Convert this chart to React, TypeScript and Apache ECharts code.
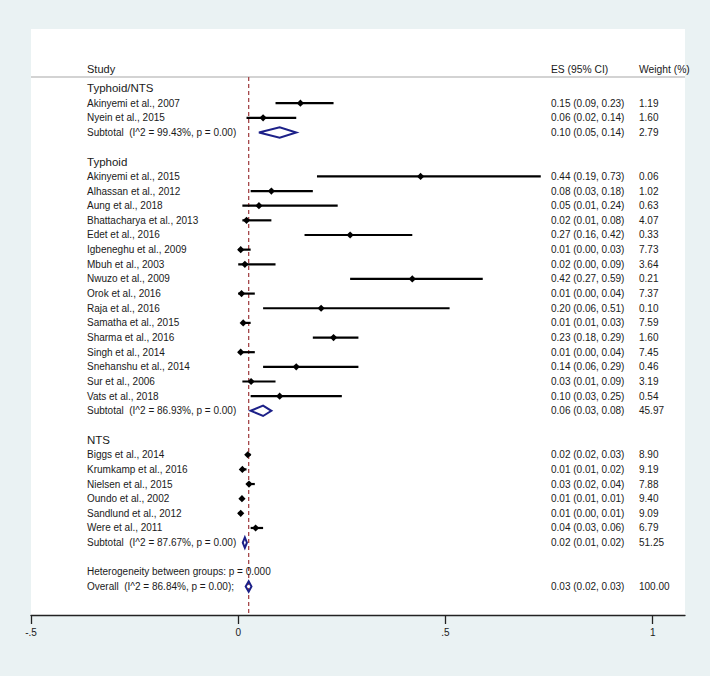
import React, { useEffect, useRef } from "react";
import * as echarts from "echarts";

// ---------- data ----------
const groupNames = ["Typhoid/NTS", "Typhoid", "NTS"];
const groupI2 = [99.43, 86.93, 87.67];
const groupP = [0.0, 0.0, 0.0];
const groupES = [0.1, 0.06, 0.016];
const groupLo = [0.05, 0.03, 0.011];
const groupHi = [0.14, 0.08, 0.021];
const groupWeight = [2.79, 45.97, 51.25];

const studyNames = [
  "Akinyemi et al., 2007",
  "Nyein et al., 2015",
  "Akinyemi et al., 2015",
  "Alhassan et al., 2012",
  "Aung et al., 2018",
  "Bhattacharya et al., 2013",
  "Edet et al., 2016",
  "Igbeneghu et al., 2009",
  "Mbuh et al., 2003",
  "Nwuzo et al., 2009",
  "Orok et al., 2016",
  "Raja et al., 2016",
  "Samatha et al., 2015",
  "Sharma et al., 2016",
  "Singh et al., 2014",
  "Snehanshu et al., 2014",
  "Sur et al., 2006",
  "Vats et al., 2018",
  "Biggs et al., 2014",
  "Krumkamp et al., 2016",
  "Nielsen et al., 2015",
  "Oundo et al., 2002",
  "Sandlund et al., 2012",
  "Were et al., 2011",
];
const studyGroup = [0, 0, 1, 1, 1, 1, 1, 1, 1, 1, 1, 1, 1, 1, 1, 1, 1, 1, 2, 2, 2, 2, 2, 2];
const studyES = [
  0.15, 0.06, 0.44, 0.08, 0.05, 0.02, 0.27, 0.006, 0.016, 0.42, 0.008, 0.2, 0.012, 0.23, 0.006,
  0.14, 0.031, 0.1, 0.023, 0.01, 0.026, 0.009, 0.006, 0.042,
];
const studyLo = [
  0.09, 0.02, 0.19, 0.03, 0.01, 0.01, 0.16, 0.0, 0.0, 0.27, 0.0, 0.06, 0.01, 0.18, 0.0, 0.06, 0.01,
  0.03, 0.02, 0.01, 0.02, 0.01, 0.0, 0.03,
];
const studyHi = [
  0.23, 0.14, 0.73, 0.18, 0.24, 0.08, 0.42, 0.03, 0.09, 0.59, 0.04, 0.51, 0.03, 0.29, 0.04, 0.29,
  0.09, 0.25, 0.03, 0.02, 0.04, 0.01, 0.01, 0.06,
];
const studyWeight = [
  1.19, 1.6, 0.06, 1.02, 0.63, 4.07, 0.33, 7.73, 3.64, 0.21, 7.37, 0.1, 7.59, 1.6, 7.45, 0.46, 3.19,
  0.54, 8.9, 9.19, 7.88, 9.4, 9.09, 6.79,
];

const overallES = 0.0252;
const overallLo = 0.018;
const overallHi = 0.032;
const overallI2 = 86.84;
const overallP = 0.0;
const overallWeight = 100.0;
const heterogeneityP = "0.000";

const tickValues = [-0.5, 0, 0.5, 1];
const tickLabels = ["-.5", "0", ".5", "1"];

const headerStudy = "Study";
const headerES = "ES (95% CI)";
const headerWeight = "Weight (%)";

// ---------- styling ----------
const FONT = "'Liberation Sans', Arial, Helvetica, sans-serif";
const TEXT = "#1a1a1a";
const NAVY = "#1c2088";
const REFLINE = "#a5474a";
const BG = "#eaf2f3";

const fmt = (v: number) => v.toFixed(2);
const ciText = (es: number, lo: number, hi: number) => `${fmt(es)} (${fmt(lo)}, ${fmt(hi)})`;

// ---------- row layout (row indices on the y value axis) ----------
type Row = { y: number; label: string; es: string; w: string; big: boolean };
const rows: Row[] = [];
const studyRow: number[] = [];
const pooledRows: { es: number; lo: number; hi: number; y: number }[] = [];
let cursor = 0;
groupNames.forEach((g, gi) => {
  rows.push({ y: cursor, label: g, es: "", w: "", big: true });
  cursor++;
  studyNames.forEach((n, si) => {
    if (studyGroup[si] !== gi) return;
    studyRow[si] = cursor;
    rows.push({
      y: cursor,
      label: n,
      es: ciText(studyES[si], studyLo[si], studyHi[si]),
      w: fmt(studyWeight[si]),
      big: false,
    });
    cursor++;
  });
  rows.push({
    y: cursor,
    label: `Subtotal\u00a0 (I^2 = ${fmt(groupI2[gi])}%, p = ${fmt(groupP[gi])})`,
    es: ciText(groupES[gi], groupLo[gi], groupHi[gi]),
    w: fmt(groupWeight[gi]),
    big: false,
  });
  pooledRows.push({ es: groupES[gi], lo: groupLo[gi], hi: groupHi[gi], y: cursor });
  cursor += 2;
});
rows.push({
  y: cursor,
  label: `Heterogeneity between groups: p = ${heterogeneityP}`,
  es: "",
  w: "",
  big: false,
});
cursor++;
rows.push({
  y: cursor,
  label: `Overall\u00a0 (I^2 = ${fmt(overallI2)}%, p = ${fmt(overallP)});`,
  es: ciText(overallES, overallLo, overallHi),
  w: fmt(overallWeight),
  big: false,
});
pooledRows.push({ es: overallES, lo: overallLo, hi: overallHi, y: cursor });

const headerRowY = -1.33;
const separatorY = -0.785;

const LABEL_X = 56; // offset from the plot left
const ES_X = 520;
const W_X = 608;

function textEl(x: number, y: number, text: string, size: number) {
  return {
    type: "text",
    x,
    y,
    style: {
      text,
      fill: TEXT,
      font: `${size}px ${FONT}`,
      textAlign: "left",
      textVerticalAlign: "middle",
    },
  };
}

const option: any = {
  animation: false,
  backgroundColor: BG,
  grid: {
    left: 31,
    right: 25,
    top: 29,
    bottom: 61,
    show: true,
    backgroundColor: "#ffffff",
    borderWidth: 0,
  },
  xAxis: {
    type: "value",
    min: -0.5,
    max: 1.078,
    axisLine: { show: true, onZero: false, lineStyle: { color: "#222", width: 1.3 } },
    axisTick: {
      show: true,
      customValues: tickValues,
      length: 9,
      lineStyle: { color: "#222", width: 1.3 },
    },
    axisLabel: {
      customValues: tickValues,
      margin: 12,
      fontSize: 10,
      fontFamily: FONT,
      color: TEXT,
      formatter: (v: number) => {
        let best = 0;
        tickValues.forEach((t, i) => {
          if (Math.abs(t - v) < Math.abs(tickValues[best] - v)) best = i;
        });
        return tickLabels[best];
      },
    },
    splitLine: { show: false },
  },
  yAxis: {
    type: "value",
    inverse: true,
    min: -4.061,
    max: 35.94,
    show: false,
  },
  series: [
    // separator line + column headers
    {
      type: "custom",
      z: 1,
      data: [[0, separatorY]],
      renderItem: (params: any, api: any) => {
        const cs = params.coordSys;
        const ySep = api.coord([0, api.value(1)])[1];
        const yHead = api.coord([0, headerRowY])[1];
        return {
          type: "group",
          children: [
            {
              type: "line",
              shape: { x1: cs.x, y1: ySep, x2: cs.x + cs.width, y2: ySep },
              style: { stroke: "#c4c4c4", lineWidth: 1.4 },
            },
            textEl(cs.x + LABEL_X, yHead, headerStudy, 11),
            textEl(cs.x + ES_X, yHead, headerES, 10.3),
            textEl(cs.x + W_X, yHead, headerWeight, 10.3),
          ],
        };
      },
    },
    // overall reference line
    {
      type: "custom",
      z: 2,
      data: [[overallES, separatorY]],
      renderItem: (params: any, api: any) => {
        const cs = params.coordSys;
        const p = api.coord([api.value(0), api.value(1)]);
        return {
          type: "line",
          shape: { x1: p[0], y1: p[1], x2: p[0], y2: cs.y + cs.height },
          style: { stroke: REFLINE, lineWidth: 1.3, lineDash: [4, 3] },
        };
      },
    },
    // study CI lines and point markers
    {
      type: "custom",
      z: 3,
      data: studyNames.map((_, i) => [studyES[i], studyLo[i], studyHi[i], studyRow[i]]),
      renderItem: (params: any, api: any) => {
        const y = api.coord([0, api.value(3)])[1];
        const xe = api.coord([api.value(0), 0])[0];
        const xl = api.coord([api.value(1), 0])[0];
        const xh = api.coord([api.value(2), 0])[0];
        const s = 3.6;
        return {
          type: "group",
          children: [
            {
              type: "line",
              shape: { x1: xl, y1: y, x2: xh, y2: y },
              style: { stroke: "#000", lineWidth: 2.2 },
            },
            {
              type: "polygon",
              shape: {
                points: [
                  [xe - s, y],
                  [xe, y - s],
                  [xe + s, y],
                  [xe, y + s],
                ],
              },
              style: { fill: "#000" },
            },
          ],
        };
      },
    },
    // pooled diamonds
    {
      type: "custom",
      z: 4,
      data: pooledRows.map((p) => [p.es, p.lo, p.hi, p.y]),
      renderItem: (params: any, api: any) => {
        const y = api.coord([0, api.value(3)])[1];
        const xe = api.coord([api.value(0), 0])[0];
        const xl = api.coord([api.value(1), 0])[0];
        const xh = api.coord([api.value(2), 0])[0];
        const h = 5.2;
        return {
          type: "polygon",
          shape: {
            points: [
              [xl, y],
              [xe, y - h],
              [xh, y],
              [xe, y + h],
            ],
          },
          style: { fill: "none", stroke: NAVY, lineWidth: 2, lineJoin: "miter" },
        };
      },
    },
    // row texts
    {
      type: "custom",
      z: 5,
      data: rows.map((r) => [0, r.y]),
      renderItem: (params: any, api: any) => {
        const cs = params.coordSys;
        const r = rows[params.dataIndex];
        const y = api.coord([0, api.value(1)])[1];
        const children: any[] = [textEl(cs.x + LABEL_X, y, r.label, r.big ? 11.5 : 10)];
        if (r.es) children.push(textEl(cs.x + ES_X, y, r.es, 10));
        if (r.w) children.push(textEl(cs.x + W_X, y, r.w, 10));
        return { type: "group", children };
      },
    },
  ],
};

export default function App() {
  const ref = useRef<HTMLDivElement>(null);
  useEffect(() => {
    document.body.style.margin = "0";
    const chart = echarts.init(ref.current!, null, { renderer: "svg" });
    chart.setOption(option);
    return () => chart.dispose();
  }, []);
  return <div ref={ref} style={{ width: 710, height: 676 }} />;
}
